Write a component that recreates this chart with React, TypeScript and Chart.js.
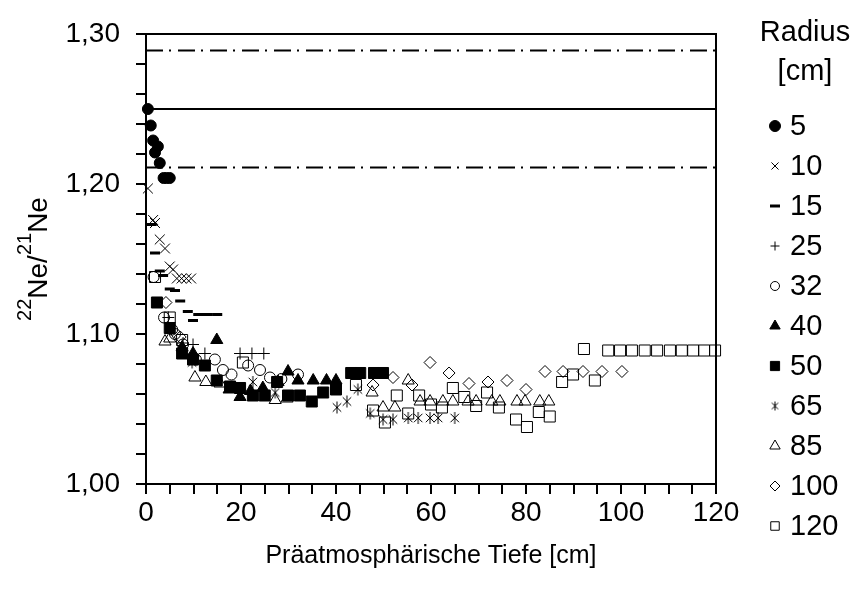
import React, { useEffect, useRef } from 'react';
import { Chart, registerables } from 'chart.js';
import { drawPoint } from 'chart.js/helpers';

Chart.register(...registerables);

const FONT = "'Liberation Sans', Arial, sans-serif";

// Legend labels (Radius [cm])
const radiusLabels = ['5', '10', '15', '25', '32', '40', '50', '65', '85', '100', '120'];

// Axis ticks
const xMin = 0, xMax = 120, xStep = 5, xLabelEvery = 20;
const yMin = 1.0, yMax = 1.3, yStep = 0.02;

// Reference lines (22Ne/21Ne)
const refSolid = 1.25;
const refDashUpper = 1.289;
const refDashLower = 1.211;

// Series: depth [cm] and ratio
const depth5 = [0.4, 1.0, 1.5, 2.5, 1.9, 2.9, 3.7, 4.3, 5.0];
const ratio5 = [1.250, 1.239, 1.229, 1.225, 1.221, 1.214, 1.204, 1.204, 1.204];

const depth10 = [0.4, 1.5, 1.9, 2.9, 4.0, 5.0, 5.7, 6.5, 7.5, 8.5, 9.5];
const ratio10 = [1.197, 1.176, 1.174, 1.163, 1.157, 1.145, 1.143, 1.137, 1.137, 1.137, 1.137];

const depth15 = [1.2, 1.9, 2.9, 3.6, 5.0, 6.1, 7.2, 8.8, 9.9, 11.0, 13.0, 15.0];
const ratio15 = [1.173, 1.154, 1.142, 1.139, 1.130, 1.129, 1.122, 1.115, 1.109, 1.113, 1.113, 1.113];

const depth25 = [4.7, 7.8, 9.9, 12.4, 19.8, 22.3, 24.8];
const ratio25 = [1.111, 1.094, 1.093, 1.087, 1.087, 1.087, 1.087];

const depth32 = [1.6, 3.8, 5.5, 6.1, 7.8, 10.5, 14.5, 16.2, 18.0, 21.5, 24.0, 26.1, 28.5, 32.0];
const ratio32 = [1.138, 1.111, 1.103, 1.100, 1.093, 1.083, 1.083, 1.076, 1.073, 1.079, 1.076, 1.071, 1.070, 1.073];

const depth40 = [7.6, 9.9, 14.9, 17.5, 19.8, 22.0, 24.6, 27.8, 29.9, 32.0, 35.2, 38.0, 40.0];
const ratio40 = [1.091, 1.087, 1.096, 1.063, 1.058, 1.062, 1.064, 1.068, 1.075, 1.069, 1.069, 1.069, 1.069];

const depth50 = [2.3, 5.0, 7.6, 9.9, 12.4, 14.9, 17.7, 19.8, 22.5, 25.0, 27.6, 29.9, 32.4, 34.9, 37.3, 40.0, 43.2, 45.1, 48.0, 49.9];
const ratio50 = [1.121, 1.104, 1.087, 1.083, 1.079, 1.069, 1.065, 1.064, 1.059, 1.059, 1.068, 1.059, 1.059, 1.055, 1.061, 1.063, 1.074, 1.074, 1.074, 1.074];

const depth65 = [9.7, 22.5, 27.2, 40.2, 42.3, 44.6, 47.2, 49.9, 52.0, 55.2, 57.3, 59.8, 61.5, 65.0];
const ratio65 = [1.081, 1.068, 1.061, 1.051, 1.055, 1.063, 1.047, 1.043, 1.043, 1.044, 1.044, 1.044, 1.044, 1.044];

const depth85 = [4.0, 5.0, 10.3, 12.6, 15.6, 27.2, 29.7, 47.6, 49.9, 52.4, 55.2, 57.7, 59.8, 62.5, 64.6, 67.8, 69.5, 72.8, 74.5, 78.1, 79.8, 82.9, 84.8];
const ratio85 = [1.095, 1.097, 1.071, 1.068, 1.067, 1.056, 1.057, 1.061, 1.051, 1.051, 1.069, 1.055, 1.055, 1.055, 1.055, 1.055, 1.055, 1.055, 1.055, 1.055, 1.055, 1.055, 1.055];

const depth100 = [4.2, 7.2, 47.8, 52.0, 56.0, 59.8, 63.8, 68.0, 72.0, 76.0, 80.0, 84.0, 87.8, 92.0, 96.0, 100.2];
const ratio100 = [1.121, 1.098, 1.066, 1.071, 1.066, 1.081, 1.074, 1.067, 1.068, 1.069, 1.063, 1.075, 1.075, 1.075, 1.075, 1.075];

const depth120 = [1.9, 5.0, 7.6, 20.4, 44.2, 47.8, 50.3, 52.8, 55.2, 57.5, 60.0, 62.3, 64.6, 67.0, 69.5, 71.8, 74.3, 77.9, 80.2, 82.7, 85.0, 87.6, 89.9, 92.2, 94.5, 97.3, 99.8, 102.3, 105.0, 107.6, 110.3, 112.8, 115.2, 117.5, 119.8];
const ratio120 = [1.138, 1.111, 1.096, 1.081, 1.066, 1.049, 1.041, 1.059, 1.047, 1.059, 1.053, 1.051, 1.064, 1.058, 1.052, 1.061, 1.051, 1.043, 1.038, 1.048, 1.045, 1.068, 1.073, 1.090, 1.069, 1.089, 1.089, 1.089, 1.089, 1.089, 1.089, 1.089, 1.089, 1.089, 1.089];

const seriesDepths = [depth5, depth10, depth15, depth25, depth32, depth40, depth50, depth65, depth85, depth100, depth120];
const seriesRatios = [ratio5, ratio10, ratio15, ratio25, ratio32, ratio40, ratio50, ratio65, ratio85, ratio100, ratio120];

function makeAsterisk(size: number, lw: number): HTMLCanvasElement {
  const c = document.createElement('canvas');
  c.width = size;
  c.height = size;
  const ctx = c.getContext('2d')!;
  const h = size / 2;
  const r = h - 1;
  const d = r * Math.SQRT1_2;
  ctx.strokeStyle = '#000';
  ctx.lineWidth = lw;
  ctx.beginPath();
  ctx.moveTo(h, h - r); ctx.lineTo(h, h + r);
  ctx.moveTo(h - d, h - d); ctx.lineTo(h + d, h + d);
  ctx.moveTo(h + d, h - d); ctx.lineTo(h - d, h + d);
  ctx.stroke();
  return c;
}

type MarkerStyle = { pointStyle: any; radius: number; fill: string; borderWidth: number; legendRadius: number };

function buildStyles(): MarkerStyle[] {
  const ast = makeAsterisk(14, 1);
  const astLegend = makeAsterisk(11, 1);
  const none = 'rgba(0,0,0,0)';
  const styles: MarkerStyle[] = [
    { pointStyle: 'circle', radius: 5.5, fill: '#000', borderWidth: 1, legendRadius: 5.5 },
    { pointStyle: 'crossRot', radius: 7, fill: none, borderWidth: 1, legendRadius: 5 },
    { pointStyle: 'line', radius: 5, fill: none, borderWidth: 3, legendRadius: 5 },
    { pointStyle: 'cross', radius: 6, fill: none, borderWidth: 1, legendRadius: 4.5 },
    { pointStyle: 'circle', radius: 5.5, fill: none, borderWidth: 1, legendRadius: 4.5 },
    { pointStyle: 'triangle', radius: 7, fill: '#000', borderWidth: 1, legendRadius: 6 },
    { pointStyle: 'rect', radius: 7.8, fill: '#000', borderWidth: 1, legendRadius: 6.5 },
    { pointStyle: ast, radius: 7, fill: none, borderWidth: 1, legendRadius: 5 },
    { pointStyle: 'triangle', radius: 7, fill: none, borderWidth: 1, legendRadius: 6 },
    { pointStyle: 'rectRot', radius: 6, fill: none, borderWidth: 1, legendRadius: 5 },
    { pointStyle: 'rect', radius: 7.8, fill: none, borderWidth: 1, legendRadius: 6 },
  ];
  (styles[7] as any).legendImage = astLegend;
  return styles;
}

export default function App() {
  const ref = useRef<HTMLCanvasElement | null>(null);

  useEffect(() => {
    if (!ref.current) return;
    const styles = buildStyles();

    const scatterSets = radiusLabels.map((lab, i) => ({
      type: 'scatter' as const,
      label: lab,
      data: seriesDepths[i].map((x, j) => ({ x, y: seriesRatios[i][j] })),
      pointStyle: styles[i].pointStyle,
      pointRadius: styles[i].radius,
      pointBackgroundColor: styles[i].fill,
      pointBorderColor: '#000',
      pointBorderWidth: styles[i].borderWidth,
      showLine: false,
      clip: false as any,
    }));

    const refLine = (y: number, dash: number[]) => ({
      type: 'line' as const,
      label: 'ref' + y,
      data: [{ x: xMin, y }, { x: xMax, y }],
      borderColor: '#000',
      borderWidth: 2,
      borderDash: dash,
      pointRadius: 0,
      fill: false,
    });

    const legendPlugin = {
      id: 'customDecor',
      afterDraw(chart: any) {
        const { ctx, chartArea: a } = chart;
        ctx.save();
        // top and right frame
        ctx.strokeStyle = '#000';
        ctx.lineWidth = 2;
        ctx.beginPath();
        ctx.moveTo(a.left - 1, a.top);
        ctx.lineTo(a.right, a.top);
        ctx.lineTo(a.right, a.bottom + 1);
        ctx.stroke();

        // y-axis title with superscripts
        ctx.save();
        ctx.translate(47, (a.top + a.bottom) / 2);
        ctx.rotate(-Math.PI / 2);
        ctx.fillStyle = '#000';
        ctx.textBaseline = 'alphabetic';
        ctx.textAlign = 'left';
        const big = `28px ${FONT}`;
        const small = `20px ${FONT}`;
        const parts: [string, boolean][] = [['22', true], ['Ne/', false], ['21', true], ['Ne', false]];
        let total = 0;
        for (const [t, sup] of parts) {
          ctx.font = sup ? small : big;
          total += ctx.measureText(t).width;
        }
        let xx = -total / 2;
        for (const [t, sup] of parts) {
          ctx.font = sup ? small : big;
          ctx.fillText(t, xx, sup ? -16 : 0);
          xx += ctx.measureText(t).width;
        }
        ctx.restore();

        // legend
        ctx.fillStyle = '#000';
        ctx.font = `29px ${FONT}`;
        ctx.textAlign = 'center';
        ctx.textBaseline = 'middle';
        ctx.fillText('Radius', 805, 33);
        ctx.fillText('[cm]', 805, 72);
        ctx.textAlign = 'left';
        radiusLabels.forEach((lab, i) => {
          const y = 126 + 40 * i;
          const st: any = styles[i];
          ctx.lineWidth = st.borderWidth;
          ctx.strokeStyle = '#000';
          ctx.fillStyle = st.fill;
          if (st.legendImage) {
            ctx.drawImage(st.legendImage, 775 - st.legendImage.width / 2, y - st.legendImage.height / 2);
          } else {
            drawPoint(ctx, { pointStyle: st.pointStyle, radius: st.legendRadius, rotation: 0, borderWidth: st.borderWidth } as any, 775, y);
          }
          ctx.fillStyle = '#000';
          ctx.fillText(lab, 790, y + 1);
        });
        ctx.restore();
      },
    };

    const chart = new Chart(ref.current, {
      type: 'scatter',
      data: {
        datasets: [
          ...scatterSets,
          refLine(refSolid, []),
          refLine(refDashUpper, [17, 6, 2, 7]),
          refLine(refDashLower, [17, 6, 2, 7]),
        ] as any,
      },
      options: {
        responsive: false,
        animation: false,
        devicePixelRatio: 1,
        layout: { padding: { top: 34, right: 137, left: 0, bottom: 0 } },
        plugins: {
          legend: { display: false },
          tooltip: { enabled: false },
        },
        scales: {
          x: {
            type: 'linear',
            min: xMin,
            max: xMax,
            afterFit: (s: any) => { s.height = 113; },
            border: { display: true, color: '#000', width: 2 },
            grid: { drawOnChartArea: false, drawTicks: true, tickLength: 10, color: '#000', lineWidth: 2 },
            ticks: {
              stepSize: xStep,
              autoSkip: false,
              maxRotation: 0,
              padding: 2,
              color: '#000',
              font: { family: FONT, size: 28 },
              callback: (v: any) => (Number(v) % xLabelEvery === 0 ? String(v) : ''),
            },
            title: {
              display: true,
              text: 'Präatmosphärische Tiefe [cm]',
              color: '#000',
              font: { family: FONT, size: 25 },
              padding: { top: 0, bottom: 26 },
            },
          },
          y: {
            type: 'linear',
            min: yMin,
            max: yMax,
            afterFit: (s: any) => { s.width = 146; },
            border: { display: true, color: '#000', width: 2 },
            grid: { drawOnChartArea: false, drawTicks: true, tickLength: 10, color: '#000', lineWidth: 2 },
            ticks: {
              stepSize: yStep,
              autoSkip: false,
              padding: 16,
              color: '#000',
              font: { family: FONT, size: 28 },
              callback: (v: any) => {
                const t = Math.round(Number(v) * 100);
                return t % 10 === 0 ? (t / 100).toFixed(2).replace('.', ',') : '';
              },
            },
          },
        },
      },
      plugins: [legendPlugin],
    });

    return () => chart.destroy();
  }, []);

  return (
    <div style={{ position: 'fixed', left: 0, top: 0, width: 853, height: 597, background: '#fff' }}>
      <canvas ref={ref} width={853} height={597} style={{ display: 'block' }} />
    </div>
  );
}
